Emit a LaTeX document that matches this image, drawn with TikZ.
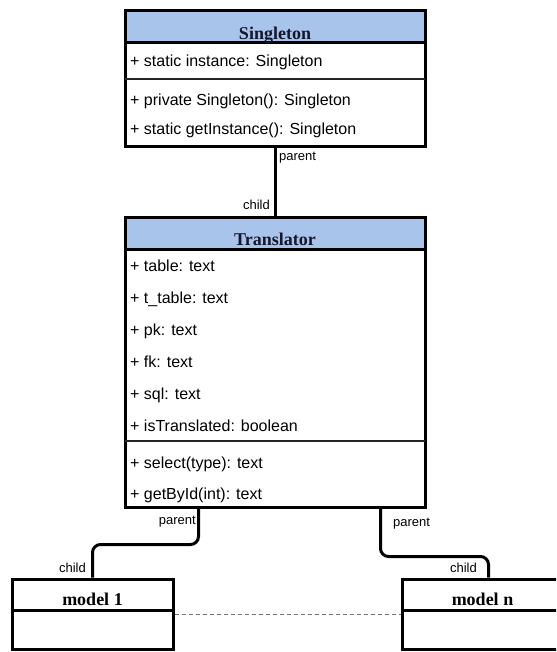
\documentclass[tikz,border=0pt]{standalone}
\usepackage{fontspec}
\setmainfont{Liberation Sans}
\newfontfamily\headserif{Liberation Serif}
\usetikzlibrary{calc}

\definecolor{headblue}{RGB}{169,196,235}
\definecolor{headink}{RGB}{22,22,44}

\tikzset{
  classbox/.style={draw=black, line width=3pt, inner sep=0pt, rectangle},
  headfill/.style={fill=headblue, draw=none},
  headtitle/.style={anchor=base, inner sep=0pt, text=headink,
    font=\headserif\bfseries\fontsize{18}{20}\selectfont},
  member/.style={anchor=base west, inner sep=0pt,
    font=\fontsize{16}{18}\selectfont},
  rolelabel/.style={inner sep=0pt, font=\fontsize{13}{15}\selectfont},
  headrule/.style={line width=3pt},
  sectionrule/.style={line width=1.4pt, draw=black!85},
  link/.style={line width=3pt, rounded corners=8pt},
  peers/.style={dashed, dash pattern=on 4pt off 3pt, draw=black!55, line width=1pt}
}

\begin{document}
\begin{tikzpicture}[x=1pt, y=-1pt]
  \useasboundingbox (0,0) rectangle (556,652);
  \clip (0,0) rectangle (556,652);
  \fill[white] (0,0) rectangle (556,652);

  % header bands
  \path[headfill] (125,11) rectangle (425,43);
  \path[headfill] (125,217) rectangle (425,249);

  % class Singleton
  \node[classbox, minimum width=300pt, minimum height=136pt] (singleton) at (275,79) {};
  \draw[headrule] (125,43) -- (425,43);
  \draw[sectionrule] (125,79) -- (425,79);
  \node[headtitle] (singletonTitle) at (275,40) {Singleton};
  \node[member] (sAttr) at (130,67) {+ static instance: Singleton};
  \node[member] (sCtor) at (130,106) {+ private Singleton(): Singleton};
  \node[member] (sGet)  at (130,135) {+ static getInstance(): Singleton};

  % class Translator
  \node[classbox, minimum width=300pt, minimum height=290pt] (translator) at (275,362) {};
  \draw[headrule] (125,249) -- (425,249);
  \draw[sectionrule] (125,441) -- (425,441);
  \node[headtitle] (translatorTitle) at (275,245) {Translator};
  \node[member] (tTable)  at (130,271) {+ table: text};
  \node[member] (tTTable) at (130,303) {+ t\_table: text};
  \node[member] (tPk)     at (130,335) {+ pk: text};
  \node[member] (tFk)     at (130,367) {+ fk: text};
  \node[member] (tSql)    at (130,399) {+ sql: text};
  \node[member] (tFlag)   at (130,431) {+ isTranslated: boolean};
  \node[member] (tSelect) at (130,468) {+ select(type): text};
  \node[member] (tById)   at (130,499) {+ getById(int): text};

  % model classes
  \node[classbox, minimum width=161pt, minimum height=70pt] (model1) at (92.5,614) {};
  \draw[headrule] (12,610) -- (173,610);
  \node[headtitle, text=black] (model1Title) at (92.5,605) {model 1};

  \node[classbox, minimum width=161pt, minimum height=70pt] (modeln) at (482.5,614) {};
  \draw[headrule] (402,610) -- (563,610);
  \node[headtitle, text=black] (modelnTitle) at (482.5,605) {model n};

  % associations
  \draw[link] (singleton.south) -- (translator.north);
  \draw[link] ([xshift=75pt]translator.south west) -- ++(0,36) -| (model1.north);
  \draw[link] ([xshift=-46pt]translator.south east) -- ++(0,48) -| ([xshift=6pt]modeln.north);
  \draw[peers] (model1.east) -- (modeln.west);

  % role labels
  \node[rolelabel, anchor=west] (pTop)   at (279,158) {parent};
  \node[rolelabel, anchor=east] (cTop)   at (270,205) {child};
  \node[rolelabel, anchor=east] (pLeft)  at (196,522) {parent};
  \node[rolelabel, anchor=east] (cLeft)  at (86,568)  {child};
  \node[rolelabel, anchor=west] (pRight) at (393,524) {parent};
  \node[rolelabel, anchor=east] (cRight) at (477,568) {child};
\end{tikzpicture}
\end{document}
